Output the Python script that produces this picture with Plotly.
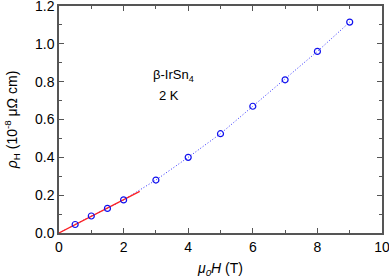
import plotly.graph_objects as go

field = [0.5, 1, 1.5, 2, 3, 4, 5, 6, 7, 8, 9]
rho_h = [0.045, 0.09, 0.13, 0.175, 0.28, 0.40, 0.525, 0.67, 0.81, 0.96, 1.115]
line_x = [0, 0.5, 1, 1.5, 2, 3, 4, 5, 6, 7, 8, 9]
line_y = [0, 0.045, 0.09, 0.13, 0.175, 0.28, 0.40, 0.525, 0.67, 0.81, 0.96, 1.115]
fit_x = [0, 2.5]
fit_y = [0, 0.22]

FONT = "Liberation Sans, Arial"

fig = go.Figure()
fig.add_trace(go.Scatter(x=line_x, y=line_y, mode="lines",
                         line=dict(color="#3030ff", width=1, dash="1px,2px"), showlegend=False))
fig.add_trace(go.Scatter(x=fit_x, y=fit_y, mode="lines",
                         line=dict(color="#ff2020", width=1.2), showlegend=False))
fig.add_trace(go.Scatter(x=field, y=rho_h, mode="markers",
                         marker=dict(symbol="circle-open", size=6, color="#1010ee",
                                     line=dict(width=1.2, color="#1010ee")),
                         showlegend=False))

axis_common = dict(showgrid=False, zeroline=False, showline=True, linecolor="#555555",
                   linewidth=1.5, mirror="ticks", ticks="inside", ticklen=5,
                   tickcolor="#555555", tickwidth=1, ticklabeloverflow="allow",
                   automargin=False,
                   tickfont=dict(family=FONT, size=14, color="black"))

fig.update_xaxes(range=[0, 10], dtick=2, tick0=0,
                 minor=dict(dtick=1, ticks="inside", ticklen=3, tickcolor="#555555"),
                 title=dict(text="<i>μ<sub>0</sub>H</i> (T)", standoff=15,
                            font=dict(family=FONT, size=14, color="black")),
                 **axis_common)
fig.update_yaxes(range=[0, 1.2], dtick=0.2, tick0=0, tickformat=".1f",
                 minor=dict(dtick=0.1, ticks="inside", ticklen=3, tickcolor="#555555"),
                 title=dict(text="<i>ρ</i><sub>H</sub> (10<sup>-8</sup> μΩ cm)", standoff=14,
                            font=dict(family=FONT, size=14, color="black")),
                 **axis_common)

fig.add_annotation(x=0.355, y=0.693, xref="paper", yref="paper", xanchor="center", yanchor="middle",
                   text="β-IrSn<sub>4</sub>", showarrow=False,
                   font=dict(family=FONT, size=13, color="black"))
fig.add_annotation(x=0.34, y=0.605, xref="paper", yref="paper", xanchor="center", yanchor="middle",
                   text="2 K", showarrow=False,
                   font=dict(family=FONT, size=13, color="black"))

fig.update_layout(width=389, height=278, margin=dict(l=59, r=7, t=6, b=45),
                  plot_bgcolor="white", paper_bgcolor="white")
fig.write_html("out.html", config={"displayModeBar": False},
               post_script="document.body.style.margin='0';")
